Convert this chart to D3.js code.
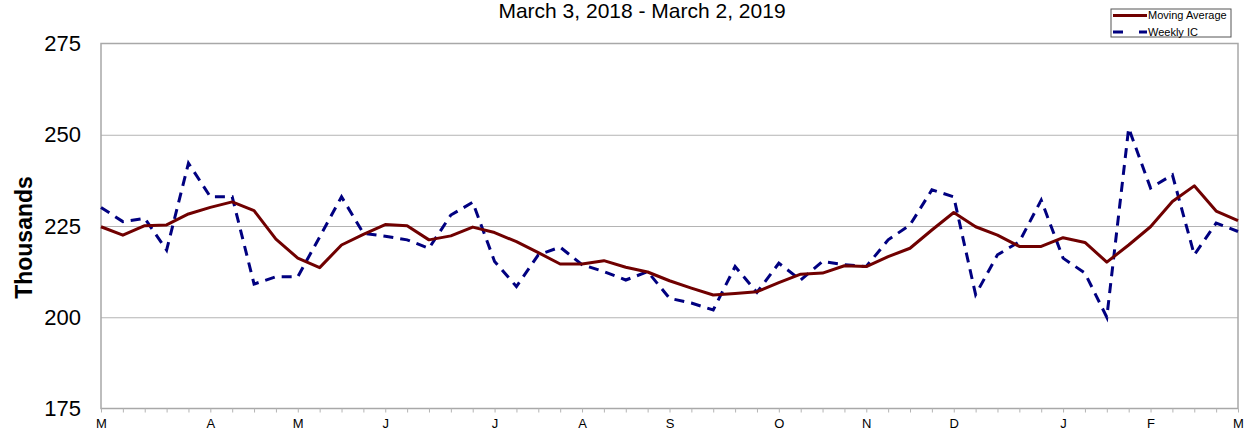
<!DOCTYPE html>
<meta charset="utf-8">
<style>
    body { margin: 0; background: #fff; }
    svg { font-family: "Liberation Sans", Arial, sans-serif; }
    .grid line { stroke: #b4b4b4; stroke-width: 1px; }
    .grid path { display: none; }
    .frame { fill: none; stroke: #a8a8a8; stroke-width: 1.5px; }
    .xaxis path { display: none; }
    .xaxis line { stroke: #b4b4b4; }
    .yaxis path, .yaxis line { display: none; }
    .maLine { fill: none; stroke: #700000; stroke-width: 3px; stroke-linejoin: round; }
    .icLine { fill: none; stroke: #000080; stroke-width: 3px; stroke-dasharray: 10,7; }
</style>

<svg width="1244" height="432"></svg>
<script src="https://d3js.org/d3.v7.min.js"></script>
<script>

    var series = ["Moving Average", "Weekly IC"];

    // weekly claims, Mar 3 2018 .. Mar 2 2019 (thousands)
    var weeklyIC = [230.1, 226.2, 227.1, 218.4, 242.2, 233.0, 233.0, 209.1, 211.1, 211.1,
        222.0, 233.0, 223.0, 222.2, 221.2, 218.9, 228.0, 231.5, 215.3, 208.4,
        217.1, 219.2, 214.4, 212.5, 210.2, 212.5, 205.2, 203.9, 202.0, 213.9,
        206.8, 214.8, 210.2, 215.3, 214.4, 213.9, 221.2, 225.3, 234.9, 233.0,
        206.2, 217.1, 220.7, 232.1, 216.2, 212.1, 200.0, 251.8, 235.4, 239.0,
        217.1, 225.8, 223.5];

    var movingAvg = [224.8, 222.5, 225.1, 225.3, 228.3, 230.1, 231.6, 229.2, 221.4, 216.2,
        213.6, 219.8, 222.7, 225.4, 225.1, 221.2, 222.3, 224.7, 223.2, 220.7,
        217.7, 214.6, 214.6, 215.5, 213.7, 212.4, 210.0, 208.0, 206.1, 206.5,
        207.0, 209.5, 211.8, 212.1, 214.1, 213.9, 216.6, 218.9, 223.9, 228.7,
        224.8, 222.5, 219.4, 219.4, 221.8, 220.5, 215.1, 219.8, 224.8, 231.7,
        236.0, 229.1, 226.5];

    var monthLabels = ["M", "A", "M", "J", "J", "A", "S", "O", "N", "D", "J", "F", "M"];
    var monthWeeks = [0, 5, 9, 13, 18, 22, 26, 31, 35, 39, 44, 48, 52];
    var yTicks = [175, 200, 225, 250, 275];

    var margin = { left: 101, top: 43.5, right: 6, bottom: 23.5 };
    var svg = d3.select("svg");
    var width = 1244 - margin.left - margin.right;
    var height = 432 - margin.top - margin.bottom;

    var g = svg.append("g")
        .attr("transform", "translate(" + margin.left + "," + margin.top + ")");

    var xScale = d3.scaleLinear()
        .domain([0, weeklyIC.length - 1])
        .range([0, width]);

    var yScale = d3.scaleLinear()
        .domain([175, 275])
        .range([height, 0]);

    g.append("g")
        .attr("class", "grid")
        .call(d3.axisLeft(yScale)
            .tickValues([200, 225, 250])
            .tickSize(-width)
            .tickFormat("")
        );

    g.append("rect")
        .attr("class", "frame")
        .attr("width", width)
        .attr("height", height);

    var labelAt = {};
    monthWeeks.forEach(function (w, i) { labelAt[w] = monthLabels[i]; });

    g.append("g")
        .attr("class", "xaxis")
        .attr("transform", "translate(0," + height + ")")
        .call(d3.axisBottom(xScale)
            .tickValues(d3.range(weeklyIC.length))
            .tickSize(4)
            .tickPadding(6)
            .tickFormat(function (d) { return labelAt[d] || ""; })
        )
        .selectAll("text")
        .attr("font-size", "13px")
        .attr("fill", "#000")
        .attr("font-family", "Liberation Sans, Arial, sans-serif");

    g.append("g")
        .attr("class", "yaxis")
        .call(d3.axisLeft(yScale)
            .tickValues(yTicks)
            .tickSize(0)
            .tickPadding(20)
        )
        .selectAll("text")
        .attr("font-size", "22px")
        .attr("fill", "#000")
        .attr("font-family", "Liberation Sans, Arial, sans-serif");

    var line = d3.line()
        .x(function (d, i) { return xScale(i); })
        .y(function (d) { return yScale(d); });

    g.append("path")
        .attr("class", "icLine")
        .attr("d", line(weeklyIC));

    g.append("path")
        .attr("class", "maLine")
        .attr("d", line(movingAvg));

    svg.append("text")
        .attr("x", 642)
        .attr("y", 18)
        .attr("text-anchor", "middle")
        .attr("font-size", "21px")
        .text("March 3, 2018 - March 2, 2019");

    svg.append("text")
        .attr("transform", "translate(32,237.5) rotate(-90)")
        .attr("text-anchor", "middle")
        .attr("font-size", "23px")
        .attr("font-weight", "bold")
        .text("Thousands");

    // legend
    var legend = svg.append("g")
        .attr("transform", "translate(1111,9)");

    legend.append("rect")
        .attr("width", 120)
        .attr("height", 28)
        .attr("fill", "#fff")
        .attr("stroke", "#555")
        .attr("stroke-width", 1);

    var items = legend.selectAll("g.item")
        .data(series)
        .enter().append("g")
        .attr("class", "item")
        .attr("transform", function (d, i) { return "translate(0," + (6.5 + i * 16.5) + ")"; });

    items.append("line")
        .attr("x1", 2)
        .attr("x2", 36)
        .attr("stroke", function (d, i) { return i === 0 ? "#700000" : "#000080"; })
        .attr("stroke-width", 3)
        .attr("stroke-dasharray", function (d, i) { return i === 0 ? null : "10,16"; });

    items.append("text")
        .attr("x", 37)
        .attr("dy", "0.35em")
        .attr("font-size", "11px")
        .text(function (d) { return d; });

</script>
